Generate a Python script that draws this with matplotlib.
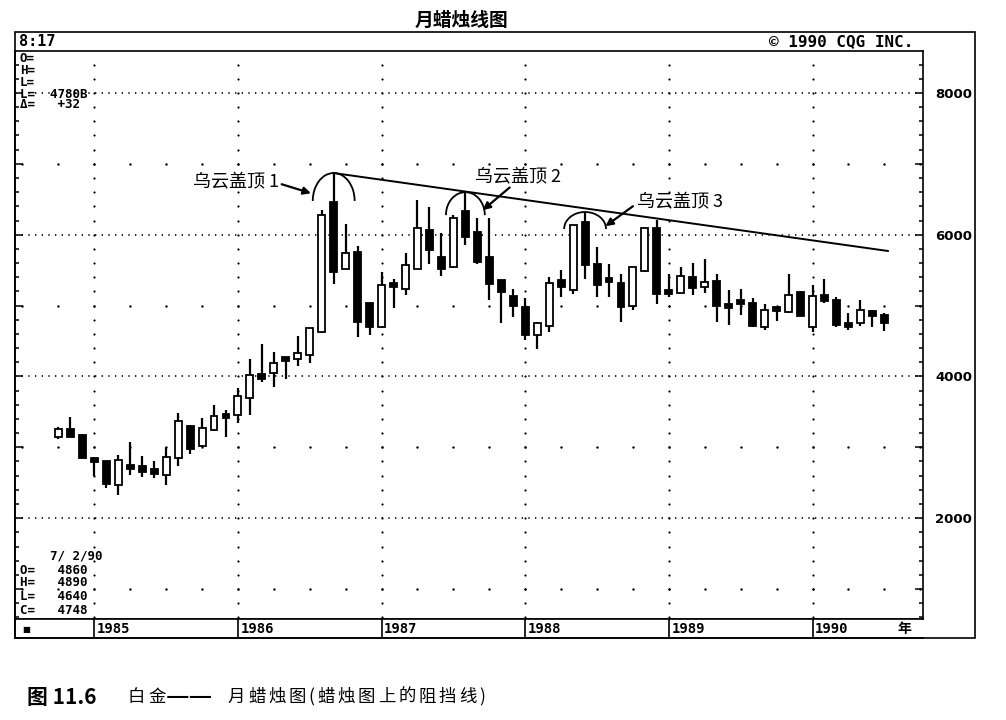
import matplotlib
matplotlib.use("Agg")
import matplotlib.pyplot as plt
from matplotlib.patches import Rectangle, Arc
from matplotlib.ticker import MultipleLocator, FuncFormatter
import numpy as np
import pandas as pd
import re

# ---------------- data ----------------
title = "月蜡烛线图"
caption_bold = "图 11.6"
caption_rest = "白金——月蜡烛图(蜡烛图上的阻挡线)"

start_month = "1984-10"
opens = [3150, 3260, 3170, 2840, 2800, 2470, 2750, 2740, 2700, 2610, 2850, 3300,
         3020, 3250, 3450, 3450, 3700, 4030, 4050, 4240, 4240, 4300, 4630, 6460,
         5520, 5760, 5040, 4700, 5290, 5240, 5520, 6060, 5680, 5540, 6340, 6040,
         5680, 5360, 5130, 4980, 4580, 4710, 5360, 5220, 6180, 5590, 5370, 5320,
         4990, 5490, 6090, 5190, 5180, 5400, 5260, 5350, 4990, 5050, 5030, 4700,
         4960, 4910, 5190, 4700, 5150, 5080, 4760, 4750, 4920, 4860]
highs = [3290, 3430, 3190, 2870, 2810, 2890, 3070, 2880, 2800, 3010, 3480, 3310,
         3410, 3590, 3530, 3830, 4250, 4460, 4350, 4250, 4570, 4690, 6350, 6870,
         6150, 5840, 5040, 5480, 5380, 5740, 6490, 6390, 6020, 6280, 6600, 6230,
         6230, 5360, 5240, 5110, 4770, 5400, 5500, 6140, 6320, 5830, 5580, 5440,
         5540, 6090, 6210, 5450, 5540, 5600, 5660, 5450, 5220, 5240, 5100, 5020,
         4980, 5450, 5210, 5290, 5370, 5120, 4890, 5080, 4940, 4890]
lows = [3120, 3140, 2840, 2600, 2430, 2330, 2610, 2580, 2570, 2470, 2740, 2900,
        3000, 3230, 3150, 3340, 3450, 3920, 3850, 3960, 4150, 4190, 4610, 5300,
        5520, 4560, 4580, 4690, 4960, 5150, 5520, 5590, 5410, 5530, 5850, 5590,
        5080, 4750, 4840, 4510, 4390, 4630, 5120, 5170, 5380, 5120, 5120, 4770,
        4940, 5480, 5020, 5120, 5180, 5150, 5180, 4770, 4720, 4860, 4700, 4650,
        4780, 4890, 4850, 4620, 5040, 4700, 4660, 4710, 4700, 4640]
closes = [3260, 3150, 2850, 2790, 2480, 2820, 2690, 2650, 2630, 2870, 3370, 2980,
          3270, 3440, 3410, 3720, 4020, 3970, 4190, 4220, 4330, 4680, 6280, 5480,
          5740, 4770, 4700, 5290, 5260, 5570, 6100, 5780, 5520, 6240, 5970, 5620,
          5310, 5190, 5000, 4580, 4760, 5320, 5260, 6130, 5570, 5290, 5330, 4980,
          5540, 6090, 5170, 5170, 5410, 5250, 5330, 5000, 4970, 5020, 4710, 4940,
          4930, 5150, 4850, 5130, 5070, 4720, 4700, 4940, 4850, 4748]

years = [1985, 1986, 1987, 1988, 1989, 1990]
ytick_labels = [2000, 4000, 6000, 8000]

info_top = ["O=", "H=", "L=", "L=  4780B", "Δ=   +32"]
info_bottom = ["    7/ 2/90", "O=   4860", "H=   4890", "L=   4640", "C=   4748"]
header_left = "8:17"
header_right = "© 1990 CQG INC."

pattern_labels = ["乌云盖顶 1", "乌云盖顶 2", "乌云盖顶 3"]
pattern_months = ["1986-09", "1987-08", "1988-06"]
label_pos = [(15.4, 6740), (31.8, 6815), (45.3, 6463)]
label_ha = ["right", "left", "left"]
arrow_tail = [(15.65, 6712), (34.7, 6666), (45.0, 6402)]
arrow_head = [(18.1, 6585), (32.45, 6346), (42.7, 6120)]
arc_half_height = [394, 324, 240]
arc_width = [3.5, 3.25, 3.5]
trend_end = (66.3, 5770)

# ---------------- layout ----------------
W, H = 1006, 720
plt.rcParams['font.family'] = ['DejaVu Sans']
CJK = ['Noto Sans CJK SC', 'DejaVu Sans']
MONO = 'DejaVu Sans Mono'

fig = plt.figure(figsize=(W / 100, H / 100), dpi=100)
fig.patch.set_facecolor('white')


def fx(px):
    return px / W


def fy(py):
    return 1 - py / H


ax = fig.add_axes([fx(15), fy(619), 908 / W, 568 / H])
ax.set_xlim(-6.625, 69.23)
ax.set_ylim(577, 8592)

periods = pd.period_range(start_month, periods=len(opens), freq='M')
xm = np.array((periods.year - 1985) * 12 + periods.month - 1, dtype=float)
o = np.array(opens, float)
c = np.array(closes, float)
hi = np.array(highs, float)
lo = np.array(lows, float)

# grid
for yv in ytick_labels:
    ax.axhline(yv, color='black', lw=1.2, linestyle=(0, (0.8, 3.2)), zorder=1)
year_x = np.array([(y - 1985) * 12 for y in years], float)
gy = np.arange(600, 8600, 200)
gx, gyy = np.meshgrid(year_x, gy)
ax.scatter(gx.ravel(), gyy.ravel(), s=2.5, color='black', lw=0, zorder=1)
qx = np.arange(-6, 70, 3)
qy = np.array([1000, 3000, 5000, 7000])
qgx, qgy = np.meshgrid(qx, qy)
ax.scatter(qgx.ravel(), qgy.ravel(), s=3, color='black', lw=0, zorder=1)

# candles
ax.vlines(xm, lo, hi, color='black', lw=1.6, zorder=2)
bottoms = np.minimum(o, c)
heights = np.maximum(np.abs(c - o), 55)
face = ['black' if cc < oo else 'white' for oo, cc in zip(o, c)]
ax.bar(xm, heights, bottom=bottoms, width=0.58, color=face,
       edgecolor='black', linewidth=1.3, zorder=3)

# resistance line
p_idx = [list(periods.strftime('%Y-%m')).index(pm) for pm in pattern_months]
ax.plot([xm[p_idx[0]], trend_end[0]], [hi[p_idx[0]], trend_end[1]],
        color='black', lw=1.4, zorder=4)

# arcs, labels, arrows
for k in range(3):
    i = p_idx[k]
    ax.add_patch(Arc((xm[i], hi[i] - arc_half_height[k]), arc_width[k],
                     2 * arc_half_height[k], theta1=-6, theta2=186,
                     color='black', lw=1.3, zorder=4))
    ax.text(label_pos[k][0], label_pos[k][1], pattern_labels[k], ha=label_ha[k],
            va='center', family=CJK, fontsize=13, zorder=5)
    ax.annotate('', xy=arrow_head[k], xytext=arrow_tail[k],
                arrowprops=dict(arrowstyle='-|>', lw=1.6, color='black',
                                mutation_scale=11, shrinkA=0, shrinkB=0))

# axes ticks
ax.set_xticks([])
ax.yaxis.set_major_locator(MultipleLocator(1000))
ax.yaxis.set_minor_locator(MultipleLocator(200))
ax.yaxis.set_major_formatter(FuncFormatter(
    lambda v, p: f"{int(v)}" if int(round(v)) in ytick_labels else ""))
ax.tick_params(axis='y', which='both', direction='in', left=True, right=True,
               labelleft=False, labelright=True, width=1.1)
ax.tick_params(axis='y', which='major', length=6, pad=9)
ax.tick_params(axis='y', which='minor', length=3)
for lab in ax.get_yticklabels():
    lab.set_fontweight('bold')
    lab.set_fontsize(9.5)
for sp in ax.spines.values():
    sp.set_linewidth(1.2)

# year row
yr = fig.add_axes([fx(15), fy(638), 908 / W, 19 / H], sharex=ax)
yr.set_ylim(0, 1)
yr.set_yticks([])
yr.tick_params(axis='x', which='both', bottom=False, top=False, labelbottom=False)
yr.spines['right'].set_visible(False)
for sp in yr.spines.values():
    sp.set_linewidth(1.2)
yr.vlines(year_x, 0, 1, color='black', lw=1.2)
for yx, yv in zip(year_x, years):
    yr.text(yx + 0.2, 0.45, str(yv), ha='left', va='center', family=MONO,
            fontweight='bold', fontsize=10)
yr.text(0.008, 0.45, "■", transform=yr.transAxes, ha='left', va='center',
        fontsize=6)
yr.text(0.980, 0.45, "年", transform=yr.transAxes, ha='center', va='center',
        family=CJK, fontweight='bold', fontsize=10)

# outer frame
fig.add_artist(Rectangle((fx(15), fy(638)), 960 / W, 606 / H,
                         transform=fig.transFigure, fill=False, lw=1.2,
                         edgecolor='black'))

# header texts
fig.text(fx(19), fy(42), header_left, ha='left', va='center', family=MONO,
         fontweight='bold', fontsize=11)
fig.text(fx(913), fy(42), header_right, ha='right', va='center', family=MONO,
         fontweight='bold', fontsize=11.5)

# info panels
for s, py in zip(info_top, [58, 70, 82, 94, 105]):
    fig.text(fx(20), fy(py), s, ha='left', va='center', family=MONO,
             fontweight='bold', fontsize=9)
for s, py in zip(info_bottom, [556, 570, 583, 597, 610]):
    fig.text(fx(20), fy(py), s, ha='left', va='center', family=MONO,
             fontweight='bold', fontsize=9)

# title & caption
fig.text(fx(461), fy(20), title, ha='center', va='center', family=CJK,
         fontweight='bold', fontsize=13.5)
fig.text(fx(27), fy(697), caption_bold, ha='left', va='center', family=CJK,
         fontweight='bold', fontsize=15)
# caption text set with the wide letter spacing of the printed original
cx = 128.0
for tok in re.findall(r"—+|.", caption_rest):
    if tok.startswith("—"):
        fig.text(fx(cx + 21), fy(697), tok, ha='center', va='center',
                 family=CJK, fontsize=19)
        cx += 59.0
        continue
    fig.text(fx(cx), fy(697), tok, ha='left', va='center', family=CJK,
             fontsize=12.5)
    cx += 8.0 if tok in "()" else 20.3

fig.savefig("out.png", dpi=100, facecolor='white')
